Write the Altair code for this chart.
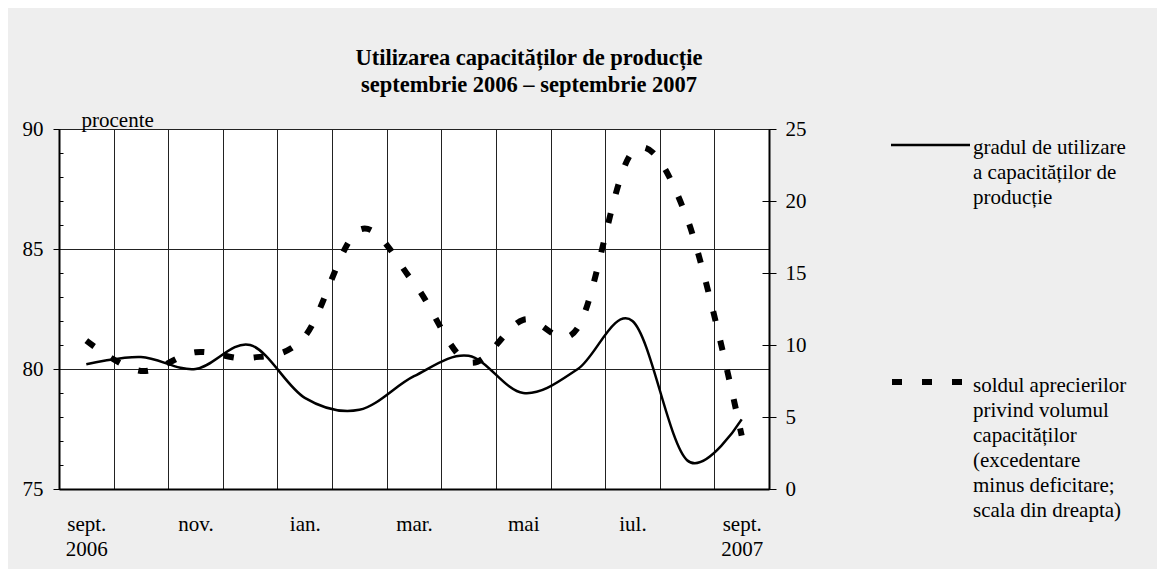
import json
import altair as alt
import pandas as pd

# ---------------- data ----------------
luni = ["sept. 2006", "oct. 2006", "nov. 2006", "dec. 2006", "ian. 2007", "feb. 2007",
        "mar. 2007", "apr. 2007", "mai 2007", "iun. 2007", "iul. 2007", "aug. 2007", "sept. 2007"]
etichete_x = [["sept.", "2006"], "", "nov.", "", "ian.", "", "mar.", "", "mai", "", "iul.", "",
              ["sept.", "2007"]]
grad_utilizare = [80.2, 80.5, 80.0, 81.0, 78.8, 78.3, 79.7, 80.55, 79.0, 80.0, 82.0, 76.2, 77.9]
sold_aprecieri = [10.3, 8.2, 9.5, 9.1, 10.6, 18.0, 14.3, 8.8, 11.75, 11.2, 23.4, 18.8, 3.7]

stanga_valori = [75, 80, 85, 90]
stanga_minore = [76, 77, 78, 79, 81, 82, 83, 84, 86, 87, 88, 89]
dreapta_valori = [0, 5, 10, 15, 20, 25]
dreapta_interior = [5, 10, 15, 20]

titlu = ["Utilizarea capacităților de producție", "septembrie 2006 – septembrie 2007"]
unitate = "procente"
legenda_1 = ["gradul de utilizare", "a capacităților de", "producție"]
legenda_2 = ["soldul aprecierilor", "privind volumul", "capacităților", "(excedentare",
             "minus deficitare;", "scala din dreapta)"]

# ---------------- chart ----------------
FONT = "Liberation Serif"
FS = 21
W, H = 710, 360

df = pd.DataFrame({"luna": luni, "grad": grad_utilizare, "sold": sold_aprecieri})
unu = pd.DataFrame({"k": [0]})

label_expr = (json.dumps(etichete_x, ensure_ascii=False)
              + "[indexof(" + json.dumps(luni, ensure_ascii=False) + ", datum.value)]")

x_enc = alt.X(
    "luna:N", sort=luni, bandPosition=0.5,
    scale=alt.Scale(type="band", paddingInner=0, paddingOuter=0),
    axis=alt.Axis(title=None, labelExpr=label_expr, labelOverlap=False, ticks=False,
                  tickBand="extent", grid=True, gridColor="#222222", gridWidth=1,
                  domainColor="black", domainWidth=2, labelFont=FONT, labelFontSize=FS,
                  labelColor="black", labelPadding=24, labelLineHeight=25.5, labelAngle=0,
                  labelBaseline="top", labelAlign="center"),
)

sc_stanga = alt.Scale(domain=[75, 90], nice=False, zero=False)
sc_dreapta = alt.Scale(domain=[0, 25], nice=False)

base = alt.Chart(df)

linie_grad = base.mark_line(color="black", strokeWidth=2.5, interpolate="cardinal").encode(
    x=x_enc,
    y=alt.Y("grad:Q", scale=sc_stanga,
            axis=alt.Axis(orient="left", values=stanga_valori, title=unitate, titleAngle=0,
                          titleX=22, titleY=-3, titleAlign="left", titleBaseline="alphabetic",
                          titleFont=FONT, titleFontSize=FS, titleFontWeight="normal",
                          titleColor="black", grid=True, gridColor="#222222", gridWidth=1,
                          tickSize=6, tickColor="black", labelPadding=10, labelFont=FONT,
                          labelFontSize=FS, labelColor="black", domainWidth=2,
                          domainColor="black")),
)

minore_stanga = base.mark_line(strokeOpacity=0).encode(
    x=x_enc,
    y=alt.Y("grad:Q", scale=sc_stanga,
            axis=alt.Axis(orient="left", offset=-4, values=stanga_minore, tickSize=4,
                          tickColor="black", labels=False, domain=False, grid=False,
                          title=None)),
)

linie_sold = base.mark_line(color="black", strokeWidth=6, strokeDash=[10, 20],
                            strokeCap="butt", interpolate="cardinal").encode(
    x=x_enc,
    y=alt.Y("sold:Q", scale=sc_dreapta,
            axis=alt.Axis(orient="right", values=dreapta_valori, title=None, grid=False,
                          tickSize=7, tickColor="black", labelPadding=9, labelFont=FONT,
                          labelFontSize=FS, labelColor="black", domainWidth=2,
                          domainColor="black")),
)

interior_dreapta = base.mark_line(strokeOpacity=0).encode(
    x=x_enc,
    y=alt.Y("sold:Q", scale=sc_dreapta,
            axis=alt.Axis(orient="right", offset=-7, values=dreapta_interior, tickSize=7,
                          tickColor="black", labels=False, domain=False, grid=False,
                          title=None)),
)

# legend (drawn beside the plot)
leg_linie_1 = alt.Chart(unu).mark_rule(color="black", strokeWidth=2.5).encode(
    x=alt.value(832), x2=alt.value(911), y=alt.value(16))
leg_text_1 = alt.Chart(unu).mark_text(align="left", baseline="top", font=FONT, fontSize=FS,
                                      lineHeight=25, color="black").encode(
    x=alt.value(914), y=alt.value(8), text=alt.value(legenda_1))
leg_linie_2 = alt.Chart(unu).mark_rule(color="black", strokeWidth=6, strokeDash=[10, 20],
                                       strokeCap="butt").encode(
    x=alt.value(833), x2=alt.value(903), y=alt.value(253))
leg_text_2 = alt.Chart(unu).mark_text(align="left", baseline="top", font=FONT, fontSize=FS,
                                      lineHeight=25, color="black").encode(
    x=alt.value(914), y=alt.value(246), text=alt.value(legenda_2))

chart = alt.layer(
    linie_grad, minore_stanga, linie_sold, interior_dreapta,
    leg_linie_1, leg_text_1, leg_linie_2, leg_text_2,
).resolve_scale(y="independent").resolve_axis(y="independent").properties(
    width=W, height=H,
    autosize=alt.AutoSizeParams(type="none"),
    padding={"left": 51, "top": 121, "right": 388, "bottom": 80},
    background="#eeeeee",
    title=alt.TitleParams(text=titlu, font=FONT, fontSize=22.5, fontWeight="bold",
                          color="black", anchor="middle", frame="group", dx=115,
                          offset=13, lineHeight=27),
).configure_view(fill="white", stroke="black", strokeWidth=1)

chart.save("out.html", embed_options={"renderer": "svg", "actions": False})
